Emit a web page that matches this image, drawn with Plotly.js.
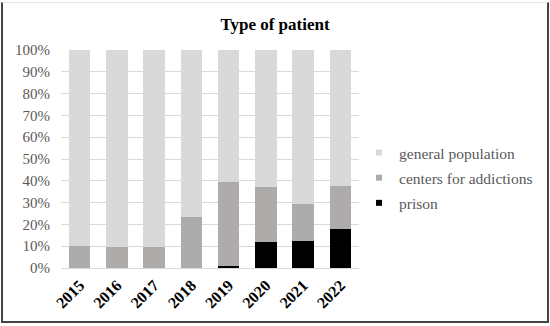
<!DOCTYPE html>
<html>
<head>
<meta charset="utf-8">
<script src="https://cdn.plot.ly/plotly-3.0.1.min.js"></script>
<style>
html,body{margin:0;padding:0;background:#fff;}
#wrap{position:relative;width:550px;height:326px;}
#chart{width:550px;height:326px;}
#frame{position:absolute;left:1px;top:2px;width:544px;height:318px;border-left:2px solid #444;border-right:2px solid #444;border-bottom:2px solid #444;border-top:1px solid #e6e6e6;pointer-events:none;}
</style>
</head>
<body>
<div id="wrap"><div id="chart"></div><div id="frame"></div></div>
<script>
const years = ['2015','2016','2017','2018','2019','2020','2021','2022'];
const prison = [0, 0, 0, 0, 0.7, 11.8, 12.3, 17.9];
const centers = [10.3, 9.6, 9.7, 23.3, 38.9, 25.2, 17.1, 19.6];
const general = [89.7, 90.4, 90.3, 76.7, 60.4, 63.0, 70.6, 62.5];
const yTicks = [0,10,20,30,40,50,60,70,80,90,100];
const yTickText = yTicks.map(v => v + '%');
const seriesNames = ['prison', 'centers for addictions', 'general population'];
const seriesColors = ['#000000', '#aeabab', '#d9d9d9'];

const serif = 'Liberation Serif, Times New Roman, serif';
const seriesData = [prison, centers, general];
const traces = [];
seriesData.forEach((d, i) => {
  traces.push({type:'bar', name:seriesNames[i], x:years, y:d, marker:{color:seriesColors[i]}, showlegend:false});
});
// legend entries with small square swatches (top to bottom: general, centers, prison)
[2, 1, 0].forEach(i => {
  traces.push({type:'scatter', mode:'markers', name:seriesNames[i], x:[null], y:[null], marker:{symbol:'square', size:6, color:seriesColors[i]}, legendgroup:'g'+i, showlegend:true});
});
const layout = {
  width:550, height:326,
  margin:{l:61, r:185, t:50, b:58},
  paper_bgcolor:'#fff', plot_bgcolor:'#fff',
  barmode:'stack', bargap:0.42,
  title:{text:'<b>Type of patient</b>', font:{family:serif, size:17, color:'#000'}, x:0.5, xref:'container', xanchor:'center', y:0.925, yanchor:'middle'},
  font:{family:serif},
  xaxis:{type:'category', tickangle:-45, tickfont:{family:serif, size:16, color:'#000', weight:'bold'}, showgrid:false, showline:false, ticks:'', ticklabelstandoff:4, automargin:false},
  yaxis:{range:[0,100], tickvals:yTicks, ticktext:yTickText, tickfont:{family:serif, size:15, color:'#595959'}, gridcolor:'#d9d9d9', gridwidth:1, zeroline:true, zerolinecolor:'#d9d9d9', showline:false, ticks:'', ticklabelstandoff:10, automargin:false},
  legend:{x:1.0, xanchor:'left', y:0.413, yanchor:'middle', traceorder:'grouped', tracegroupgap:2, itemwidth:30, font:{family:serif, size:15.5, color:'#595959'}, bgcolor:'rgba(0,0,0,0)'},
  showlegend:true
};
Plotly.newPlot('chart', traces, layout, {displayModeBar:false, staticPlot:true});
</script>
</body>
</html>
